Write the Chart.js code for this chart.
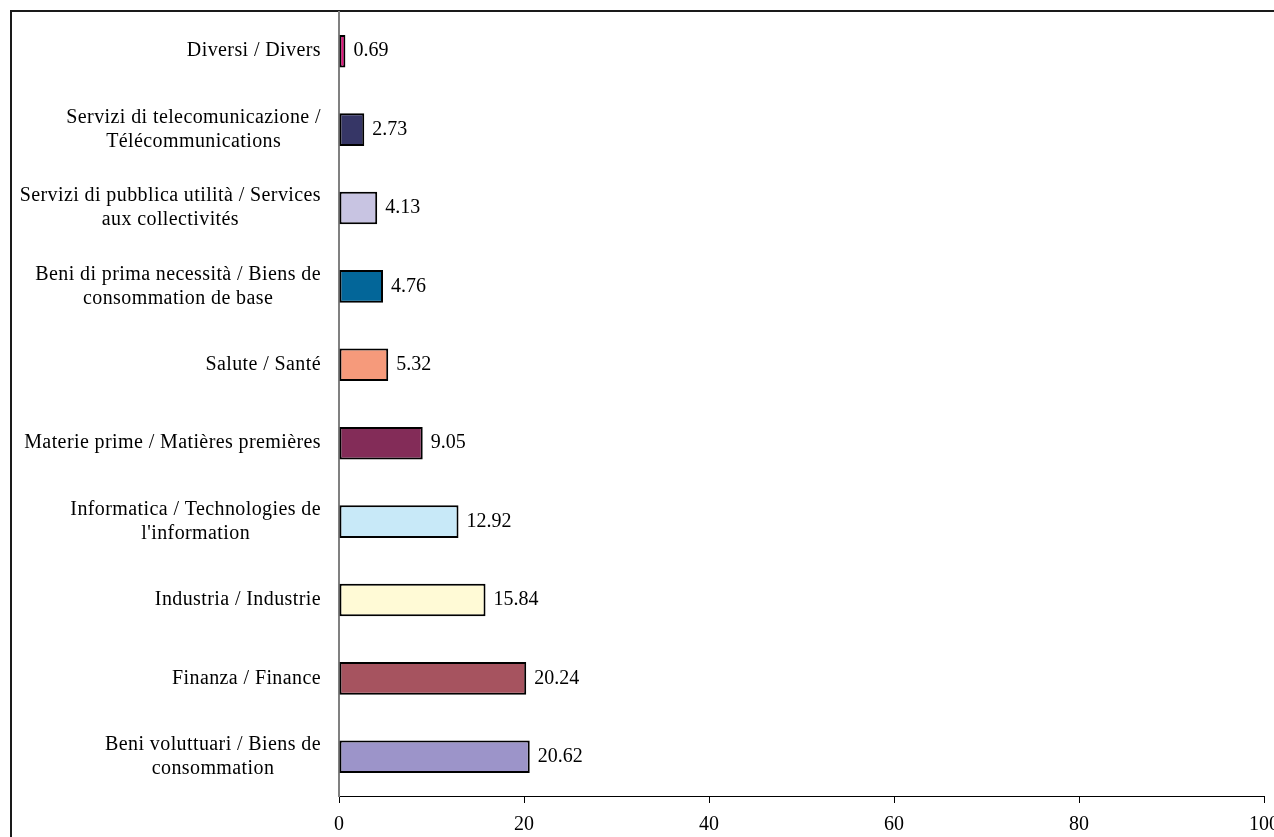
<!DOCTYPE html>
<html>
<head>
<meta charset="utf-8">
<title>Ripartizione settoriale</title>
<script src="https://cdn.jsdelivr.net/npm/chart.js@4/dist/chart.umd.min.js"></script>
<style>
    html, body { margin: 0; padding: 0; background: #fff; overflow: hidden; }
    #sectorChart { display: block; }
</style>
</head>
<body>
<canvas id="sectorChart" width="1274" height="837"></canvas>
<script>
// --- Data (top to bottom as shown) ---
const sectorLabels = [
    ['Diversi / Divers'],
    ['Servizi di telecomunicazione /', 'Télécommunications'],
    ['Servizi di pubblica utilità / Services', 'aux collectivités'],
    ['Beni di prima necessità / Biens de', 'consommation de base'],
    ['Salute / Santé'],
    ['Materie prime / Matières premières'],
    ['Informatica / Technologies de', "l'information"],
    ['Industria / Industrie'],
    ['Finanza / Finance'],
    ['Beni voluttuari / Biens de', 'consommation']
];
const sectorWeights = [0.69, 2.73, 4.13, 4.76, 5.32, 9.05, 12.92, 15.84, 20.24, 20.62];
const sectorColors = [
    '#e8117f', '#363666', '#c8c4e2', '#036699', '#f69a7b',
    '#832c58', '#c8e9f8', '#fffad6', '#a6535f', '#9c94c9'
];
const xTicks = [0, 20, 40, 60, 80, 100];

const FONT = '"Liberation Serif", "Times New Roman", serif';

// --- Outer frame (cut off at the right and bottom edges) ---
const framePlugin = {
    id: 'frame',
    beforeDraw: function (chart) {
        const ctx = chart.ctx;
        ctx.save();
        ctx.fillStyle = '#fff';
        ctx.fillRect(0, 0, chart.width, chart.height);
        ctx.strokeStyle = '#1a1a1a';
        ctx.lineWidth = 2;
        ctx.strokeRect(11, 11, 2000, 2000);
        ctx.restore();
    }
};

// --- Category labels: block right aligned, lines centered ---
const categoryLabelPlugin = {
    id: 'categoryLabels',
    afterDraw: function (chart) {
        const ctx = chart.ctx;
        const yScale = chart.scales.y;
        const rightEdge = chart.chartArea.left - 18;
        const lineH = 24;
        ctx.save();
        ctx.font = '20px ' + FONT;
        ctx.letterSpacing = '0.4px';
        ctx.fillStyle = '#000';
        ctx.textBaseline = 'middle';
        ctx.textAlign = 'center';
        sectorLabels.forEach(function (lines, i) {
            const y = yScale.getPixelForTick(i);
            let w = 0;
            lines.forEach(function (l) { w = Math.max(w, ctx.measureText(l).width); });
            const cx = rightEdge - w / 2;
            lines.forEach(function (l, j) {
                ctx.fillText(l, cx, y + (j - (lines.length - 1) / 2) * lineH);
            });
        });
        ctx.restore();
    }
};

// --- Value labels to the right of each bar ---
const valueLabelPlugin = {
    id: 'valueLabels',
    afterDatasetsDraw: function (chart) {
        const ctx = chart.ctx;
        const meta = chart.getDatasetMeta(0);
        ctx.save();
        ctx.font = '20px ' + FONT;
        ctx.fillStyle = '#000';
        ctx.textBaseline = 'middle';
        ctx.textAlign = 'left';
        meta.data.forEach(function (bar, i) {
            ctx.fillText(sectorWeights[i].toFixed(2), bar.x + 8, bar.y);
        });
        ctx.restore();
    }
};

new Chart(document.getElementById('sectorChart').getContext('2d'), {
    type: 'bar',
    data: {
        labels: sectorLabels,
        datasets: [{
            data: sectorWeights,
            backgroundColor: sectorColors,
            borderColor: '#000',
            borderWidth: 2,
            borderSkipped: false,
            categoryPercentage: 0.8,
            barPercentage: 0.52
        }]
    },
    options: {
        indexAxis: 'y',
        responsive: false,
        animation: false,
        devicePixelRatio: 1,
        layout: { padding: { left: 339, top: 12, right: 10, bottom: 0 } },
        plugins: {
            legend: { display: false },
            tooltip: { enabled: false }
        },
        scales: {
            x: {
                min: 0,
                max: 100,
                afterBuildTicks: function (scale) {
                    scale.ticks = xTicks.map(function (v) { return { value: v }; });
                },
                afterFit: function (scale) {
                    scale.paddingLeft = 0;
                    scale.paddingRight = 0;
                    scale.height = 41;
                },
                grid: {
                    display: true,
                    drawOnChartArea: false,
                    drawTicks: true,
                    tickLength: 7,
                    color: '#000'
                },
                border: { display: true, color: '#000', width: 1 },
                ticks: {
                    padding: 10,
                    maxRotation: 0,
                    color: '#000',
                    font: { family: FONT, size: 20 }
                }
            },
            y: {
                afterFit: function (scale) {
                    scale.width = 0;
                },
                grid: { display: false },
                border: { display: true, color: '#808080', width: 2 },
                ticks: { display: false }
            }
        }
    },
    plugins: [framePlugin, categoryLabelPlugin, valueLabelPlugin]
});
</script>
</body>
</html>
